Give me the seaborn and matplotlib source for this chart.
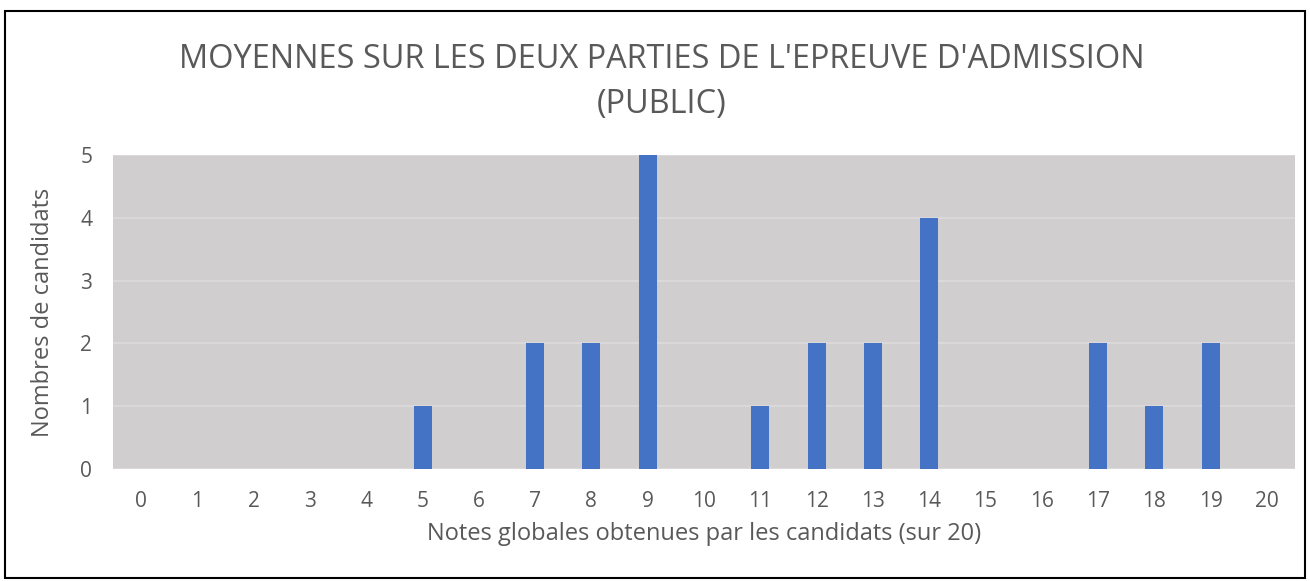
import matplotlib
matplotlib.use("Agg")
import matplotlib.pyplot as plt
import seaborn as sns
import pandas as pd
from matplotlib.patches import Rectangle

notes = [str(i) for i in range(21)]
candidats = [0, 0, 0, 0, 0, 1, 0, 2, 2, 5, 0, 1, 2, 2, 4, 0, 0, 2, 1, 2, 0]
yticks = [0, 1, 2, 3, 4, 5]

title = "MOYENNES SUR LES DEUX PARTIES DE L'EPREUVE D'ADMISSION\n(PUBLIC)"
xlabel = "Notes globales obtenues par les candidats (sur 20)"
ylabel = "Nombres de candidats"

sns.set_theme(style="white")
plt.rcParams['font.family'] = ['Open Sans', 'DejaVu Sans']
txt = "#595959"

df = pd.DataFrame({"note": notes, "n": candidats})

fig = plt.figure(figsize=(13.1, 5.81), dpi=100)
ax = fig.add_axes([113/1310, 1-469/581, (1295-113)/1310, (469-155)/581])
sns.barplot(data=df, x="note", y="n", color="#4472C4", saturation=1, width=0.32,
            linewidth=0, edgecolor="none", ax=ax, zorder=3)
ax.set_facecolor("#D0CECE")
ax.set_ylim(0, 5)
ax.set_xlim(-0.5, 20.5)
ax.set_yticks(yticks)
ax.yaxis.grid(True, color="#DDDBDB", linewidth=1.2, zorder=0)
ax.set_axisbelow(True)
for s in ax.spines.values():
    s.set_visible(False)
ax.tick_params(axis="both", length=0, colors=txt, labelsize=15)
ax.tick_params(axis="x", pad=16)
ax.tick_params(axis="y", pad=15)
ax.set_xlabel(xlabel, color=txt, fontsize=17, labelpad=7)
ax.set_ylabel(ylabel, color=txt, fontsize=17, labelpad=18)
fig.text(662/1310, 1-82/581, title, ha="center", va="center", fontsize=23.4, color=txt, linespacing=1.5)

fig.patches.append(Rectangle((5/1310, 3/581), 1300/1310, 1-14/581, transform=fig.transFigure,
                             fill=False, edgecolor="black", linewidth=1.5))
fig.savefig("out.png", dpi=100)
